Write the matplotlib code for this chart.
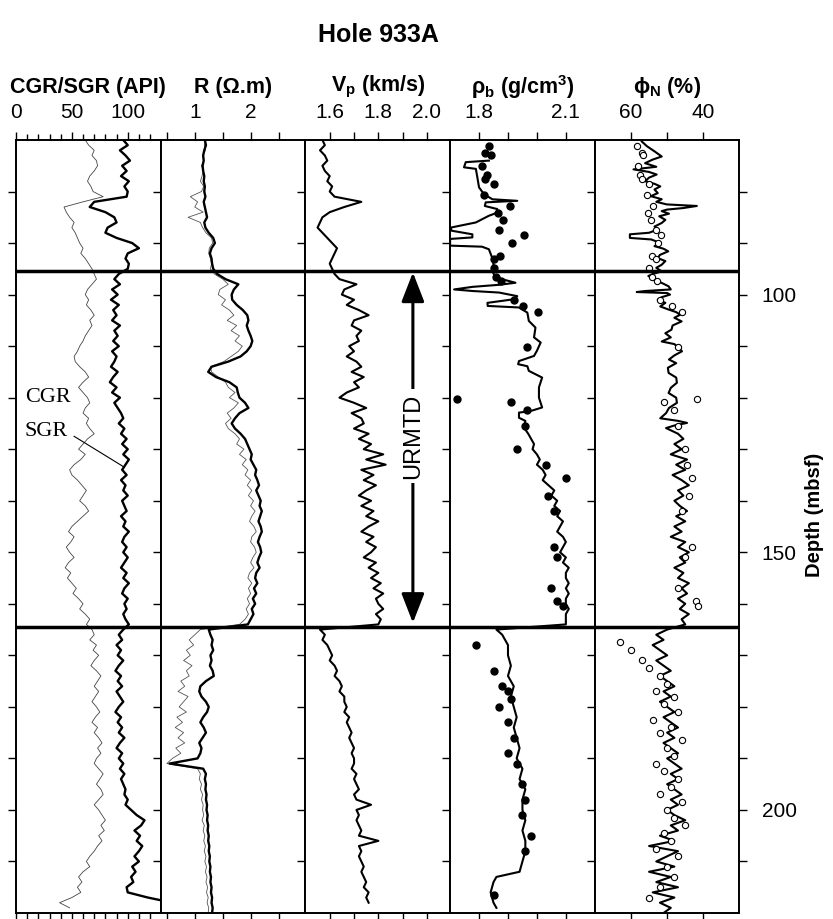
import numpy as np
import matplotlib.pyplot as plt
from matplotlib.ticker import FixedLocator

plt.rcParams['font.family'] = ['Liberation Sans', 'DejaVu Sans']
plt.rcParams['mathtext.fontset'] = 'custom'
plt.rcParams['mathtext.rm'] = 'Liberation Sans'
plt.rcParams['mathtext.bf'] = 'Liberation Sans:bold'
plt.rcParams['mathtext.it'] = 'Liberation Sans:italic'

# ---- gamma ray (API), 1 m steps from 70 m
sgr = [96, 100, 93, 98, 102, 95, 99, 94, 101, 97,
       100, 99, 70, 66, 80, 88, 90, 82, 80, 90,
       104, 110, 100, 98, 101, 100, 92, 88, 93, 86,
       91, 85, 92, 87, 90, 86, 93, 88, 91, 87,
       92, 86, 90, 88, 85, 91, 87, 84, 90, 86,
       93, 88, 91, 94, 96, 92, 97, 94, 99, 95,
       100, 96, 101, 98, 95, 99, 94, 98, 96, 100,
       95, 97, 99, 94, 98, 96, 101, 97, 95, 99,
       96, 100, 97, 94, 99, 96, 101, 97, 95, 100,
       97, 99, 96, 98, 101, 96, 92, 95, 90, 94,
       91, 96, 92, 89, 94, 91, 95, 90, 93, 96,
       92, 89, 94, 91, 95, 92, 97, 93, 90, 95,
       92, 96, 93, 97, 94, 96, 98, 97, 100, 98,
       103, 108, 115, 112, 106, 111, 108, 113, 110, 106,
       110, 104, 107, 103, 105, 99, 100, 118, 129]
sgr_depth = list(range(70, 218)) + [217.5]

cgr = [62, 65, 70, 68, 72, 73, 70, 66, 64, 67,
       69, 78, 60, 43, 45, 48, 52, 50, 53, 55,
       57, 60, 58, 62, 65, 68, 70, 72, 68, 64,
       62, 65, 63, 67, 70, 66, 68, 65, 62, 60,
       57, 55, 52, 53, 57, 62, 65, 60, 56, 60,
       64, 66, 62, 60, 65, 63, 66, 70, 64, 60,
       56, 62, 58, 52, 48, 50, 55, 59, 63, 60,
       57, 62, 65, 60, 55, 50, 47, 52, 49, 45,
       48, 52, 47, 44, 49, 46, 50, 54, 51, 56,
       60, 57, 62, 66, 63, 68, 70, 66, 72, 69,
       74, 70, 67, 72, 76, 73, 70, 74, 71, 68,
       72, 75, 71, 68, 73, 70, 74, 77, 73, 76,
       72, 70, 74, 78, 75, 72, 76, 78, 74, 70,
       74, 77, 80, 76, 79, 74, 77, 73, 70, 66,
       63, 66, 60, 56, 59, 55, 58, 50, 39, 48]
cgr_depth = list(range(70, 220))

# ---- resistivity (ohm.m), 1 m steps from 70 m
res_deep = [1.18, 1.2, 1.17, 1.15, 1.16, 1.14, 1.15, 1.17, 1.16, 1.18,
            1.17, 1.19, 1.16, 1.18, 1.2, 1.22, 1.17, 1.19, 1.25, 1.33,
            1.36, 1.3, 1.27, 1.3, 1.31, 1.33, 1.4, 1.55, 1.78, 1.7,
            1.66, 1.67, 1.75, 1.86, 1.94, 1.96, 1.93, 1.96, 2.0, 2.03,
            2.0, 1.93, 1.82, 1.6, 1.3, 1.24, 1.38, 1.62, 1.75, 1.77,
            1.8, 1.9, 1.96, 1.8, 1.72, 1.66, 1.72, 1.82, 1.9, 1.94,
            1.98, 2.02, 2.0, 2.05, 2.1, 2.08, 2.12, 2.15, 2.1, 2.14,
            2.18, 2.16, 2.2, 2.17, 2.14, 2.18, 2.2, 2.16, 2.13, 2.17,
            2.19, 2.15, 2.12, 2.16, 2.1, 2.08, 2.12, 2.06, 2.1, 2.04,
            2.08, 2.02, 2.05, 2.0, 1.95, 1.25, 1.28, 1.32, 1.3, 1.33,
            1.28, 1.3, 1.27, 1.32, 1.34, 1.2, 1.1, 1.08, 1.12, 1.2,
            1.25, 1.22, 1.15, 1.1, 1.16, 1.2, 1.14, 1.08, 1.12, 1.1,
            1.05, 0.55, 1.15, 1.2, 1.18, 1.2, 1.19, 1.21, 1.2, 1.22,
            1.21, 1.23, 1.22, 1.24, 1.23, 1.25, 1.24, 1.26, 1.25, 1.27,
            1.26, 1.28, 1.27, 1.29, 1.28, 1.3, 1.29, 1.31, 1.3, 1.32,
            1.31]
res_shallow = [1.2, 1.17, 1.19, 1.14, 1.16, 1.12, 1.15, 1.13, 1.1, 1.16,
               1.12, 0.92, 1.05, 1.0, 1.15, 0.88, 1.1, 1.14, 1.2, 1.3,
               1.32, 1.26, 1.25, 1.28, 1.3, 1.28, 1.35, 1.5, 1.6, 1.45,
               1.42, 1.55, 1.48, 1.62, 1.7, 1.58, 1.75, 1.65, 1.8, 1.72,
               1.85, 1.78, 1.65, 1.52, 1.28, 1.3, 1.42, 1.55, 1.6, 1.72,
               1.62, 1.78, 1.7, 1.58, 1.65, 1.55, 1.6, 1.72, 1.8, 1.75,
               1.88, 1.8, 1.92, 1.85, 1.95, 1.9, 2.0, 1.94, 2.02, 1.96,
               2.05, 2.0, 2.08, 2.02, 1.98, 2.06, 2.1, 2.02, 2.0, 2.07,
               2.1, 2.04, 2.0, 2.06, 1.98, 1.95, 2.02, 1.96, 2.0, 1.94,
               1.98, 1.92, 1.96, 1.9, 1.8, 1.1, 1.0, 0.9, 0.98, 0.85,
               0.92, 0.8, 0.95, 0.85, 0.9, 0.75, 0.82, 0.7, 0.88, 0.8,
               0.72, 0.85, 0.68, 0.78, 0.65, 0.8, 0.7, 0.82, 0.66, 0.75,
               0.6, 0.5, 1.05, 1.1, 1.08, 1.12, 1.1, 1.14, 1.12, 1.15,
               1.14, 1.16, 1.13, 1.17, 1.15, 1.18, 1.16, 1.19, 1.17, 1.2,
               1.18, 1.21, 1.19, 1.22, 1.2, 1.23, 1.21, 1.24, 1.22, 1.25,
               1.24]
res_depth = list(range(70, 221))

# ---- P-wave velocity (km/s), 1 m steps from 70 m
vp = [1.57, 1.58, 1.56, 1.58, 1.59, 1.57, 1.58, 1.6, 1.59, 1.61,
      1.6, 1.62, 1.73, 1.66, 1.6, 1.57, 1.56, 1.55, 1.57, 1.59,
      1.61, 1.63, 1.62, 1.61, 1.6, 1.61, 1.62, 1.64, 1.71, 1.66,
      1.65, 1.7, 1.67, 1.72, 1.76, 1.7, 1.69, 1.73, 1.71, 1.72,
      1.68, 1.7, 1.67, 1.71, 1.73, 1.69, 1.74, 1.7, 1.72, 1.67,
      1.64, 1.7, 1.75, 1.69, 1.73, 1.74, 1.7, 1.76, 1.72, 1.77,
      1.74, 1.82, 1.75, 1.83, 1.73, 1.78, 1.74, 1.79, 1.75, 1.72,
      1.77, 1.73, 1.78, 1.75, 1.8, 1.76, 1.73, 1.78, 1.75, 1.79,
      1.77, 1.74, 1.79, 1.76, 1.8, 1.77, 1.81, 1.78, 1.82, 1.79,
      1.8, 1.82, 1.79, 1.81, 1.8, 1.56, 1.58, 1.57, 1.59, 1.6,
      1.61, 1.6, 1.62, 1.63, 1.62, 1.64, 1.65, 1.64, 1.66, 1.66,
      1.67, 1.66, 1.68, 1.67, 1.68, 1.69, 1.68, 1.69, 1.7, 1.69,
      1.7, 1.7, 1.69, 1.71, 1.7, 1.71, 1.72, 1.7, 1.71, 1.77,
      1.71, 1.72, 1.71, 1.72, 1.73, 1.72, 1.8, 1.72, 1.73, 1.72,
      1.73, 1.74, 1.73, 1.74, 1.75, 1.74, 1.76, 1.75, 1.76]
vp_depth = list(range(70, 219))

# ---- bulk density log (g/cm3)
rho_depth = [74.0, 74.3, 75.3, 75.6, 77.2, 79.2, 80.5, 81.5, 81.8, 82.1,
             82.8, 83.4, 84.1, 84.7, 86.0, 87.0, 87.6, 88.3, 88.9, 89.2,
             90.5, 90.7, 91.2, 92.8, 94.1, 95.4, 96.7, 97.7, 98.1, 98.5,
             99.0, 99.3, 99.6, 100.3, 100.9, 101.6, 102.2, 102.5, 103.5, 105.1,
             106.4, 108.3, 109.3, 110.9, 111.9, 112.9, 113.5, 113.9, 114.8, 116.1,
             118.0, 120.0, 121.9, 122.6, 122.9, 123.9, 124.5, 125.8, 127, 128,
             129, 130, 131, 132, 133, 134, 135, 136, 137, 138,
             139, 140, 141, 142, 143, 144, 145, 146, 147, 148,
             149, 150, 151, 152, 153, 154, 155, 156, 157, 158,
             159, 160, 161, 162, 163, 164, 165, 166, 168, 170,
             172, 174, 176, 178, 180, 182, 184, 186, 188, 190,
             192, 194, 196, 198, 200, 202, 204, 206, 208, 210,
             212, 213, 214, 216, 218, 219]
rho = [1.834, 1.754, 1.748, 1.789, 1.794, 1.80, 1.817, 1.846, 1.932, 1.823,
       1.82, 1.863, 1.863, 1.834, 1.789, 1.702, 1.705, 1.777, 1.777, 1.70,
       1.70, 1.81, 1.834, 1.845, 1.85, 1.845, 1.858, 1.926, 1.869, 1.777,
       1.714, 1.777, 1.869, 1.932, 1.921, 1.829, 1.83, 1.938, 1.967, 1.972,
       1.995, 1.99, 2.013, 2.0, 1.99, 1.938, 1.935, 1.967, 1.972, 2.018,
       2.007, 2.007, 2.018, 1.978, 1.938, 1.938, 1.96, 1.955, 1.97, 1.98,
       1.99, 1.985, 2.0, 2.01, 2.0, 2.02, 2.03, 2.02, 2.04, 2.06,
       2.05, 2.07, 2.06, 2.08, 2.07, 2.09, 2.08, 2.07, 2.09, 2.1,
       2.09, 2.08, 2.1, 2.09, 2.11, 2.1, 2.1, 2.11, 2.1, 2.11,
       2.1, 2.1, 2.11, 2.1, 2.1, 2.1, 1.86, 1.88, 1.9, 1.9,
       1.91, 1.9, 1.92, 1.91, 1.92, 1.93, 1.92, 1.93, 1.94, 1.93,
       1.95, 1.94, 1.96, 1.95, 1.95, 1.96, 1.95, 1.96, 1.96, 1.95,
       1.94, 1.86, 1.85, 1.84, 1.85, 1.86]

# ---- neutron porosity log (%)
phi_depth = [70.3, 71.2, 72.2, 73.2, 73.8, 74.5, 75.2, 75.7, 76.2, 76.7,
             77.3, 78.0, 78.5, 79.0, 79.6, 80.3, 80.9, 81.5, 82.0, 82.5,
             82.8, 83.2, 83.5, 83.8, 84.3, 84.8, 85.5, 86.1, 86.8, 87.4,
             88.0, 88.3, 89.0, 89.3, 90.0, 90.6, 91.1, 91.6, 92.3, 92.9,
             93.5, 94.2, 94.8, 95.5, 96.0, 96.4, 96.9, 97.4, 97.9, 98.4,
             99.0, 99.3, 99.5, 99.7, 100.0, 100.5, 101.0, 101.6, 102.3, 102.9,
             103.4, 103.9, 104.5, 105.2, 106.0, 106.8, 107.5, 108.3, 109.1, 109.6,
             110.0, 110.5, 111.0, 111.8, 112.6, 113.3, 114.2, 115.2, 116.1, 117.1,
             118.1, 119.1, 120.0, 121.0, 122.0, 123.0, 124.0, 124.5, 124.9, 125.4,
             125.9] + list(range(127, 221))
phi = [57, 55.6, 53.5, 51.5, 54, 56.1, 53, 59.3, 55, 52.9,
       55, 56.1, 53.5, 51.9, 53.5, 52.6, 54.5, 51.5, 53, 50.1,
       41.8, 45.5, 50, 51.5, 49.5, 52.2, 50.5, 51.5, 53.5, 52.7,
       55, 60.3, 60.3, 54.4, 51.8, 53.5, 51, 49.7, 52, 52.6,
       50.5, 51.5, 53, 51.5, 54, 55.2, 53.5, 52.6, 51, 49.6,
       49, 56, 58.4, 50, 49.2, 51.5, 52.6, 50.5, 51.9, 49.6,
       47.5, 46.4, 48, 46, 48.5, 48.8, 50.5, 49, 51.5, 48,
       47.4, 46.5, 45.9, 48, 49.5, 47.5, 49.8, 49.6, 47.5, 47.3,
       49, 49.6, 47.5, 47.3, 49.5, 50.3, 51.9, 47, 44.5, 48,
       50.3,
       47, 45.5, 48, 46, 49, 44.5, 47.5, 45, 48.5, 46,
       44, 47, 45.5, 48, 46.5, 44.5, 47.5, 45, 48, 46,
       49, 45, 47, 44, 46.5, 45, 48, 45.5, 47, 44,
       46, 44.5, 47, 45, 46.5, 44, 46, 45, 50, 53,
       51, 54, 52, 50, 53, 51, 49, 52, 50, 48,
       51, 49, 52, 50, 48, 51, 49, 47, 50, 48,
       51, 49, 47, 50, 48, 46, 49, 47, 50, 48,
       46, 49, 47, 50, 48, 45, 49, 47, 52, 48,
       55, 47, 50, 53, 48, 55, 49, 53, 47, 54,
       48, 52, 49, 51]

# ---- core density samples
rho_core_depth = [71.1, 72.6, 72.9, 75.1, 76.7, 77.6, 78.5, 80.7, 82.9, 84.1,
                  85.6, 87.4, 88.5, 90.0, 92.6, 93.0, 94.9, 96.5, 97.4, 101.0,
                  102.3, 103.4, 110.1, 120.3, 120.8, 122.3, 125.5, 130, 133, 135.5,
                  139, 142, 149, 151, 157, 159.5, 160.5, 168, 173, 176,
                  177, 178.5, 180, 183, 186, 189, 191, 195, 198, 201,
                  205, 208, 216.5]
rho_core = [1.834, 1.820, 1.842, 1.809, 1.826, 1.821, 1.853, 1.816, 1.907, 1.867,
            1.882, 1.869, 1.955, 1.913, 1.871, 1.852, 1.853, 1.860, 1.875, 1.921,
            1.951, 2.005, 1.967, 1.725, 1.911, 1.967, 1.96, 1.93, 2.03, 2.1,
            2.04, 2.06, 2.06, 2.07, 2.05, 2.07, 2.09, 1.79, 1.85, 1.88,
            1.9, 1.91, 1.87, 1.9, 1.92, 1.9, 1.93, 1.95, 1.96, 1.95,
            1.98, 1.96, 1.85]

# ---- core porosity samples
phi_core_depth = [71.1, 72.6, 72.9, 75.1, 76.7, 77.6, 78.5, 80.7, 82.9, 84.1,
                  85.6, 87.4, 88.5, 90.0, 92.6, 93.0, 94.9, 96.5, 97.4, 101.0,
                  102.3, 103.4, 110.1, 120.3, 120.8, 122.3, 125.5, 130, 133, 135.5,
                  139, 142, 149, 151, 157, 159.5, 160.5,
                  167.5, 169, 171, 172.5, 174, 175.5, 177, 178, 179.5, 181,
                  182.5, 184, 185, 186.5, 188, 189.5, 191, 192.5, 194, 195.5,
                  197, 198.5, 200, 201.5, 203, 204.5, 206, 207.5, 209, 211,
                  213, 215, 217]
phi_core = [58.4, 57.0, 56.6, 58.0, 57.5, 57.0, 55.0, 55.6, 54.0, 55.2,
            54.6, 53.2, 51.8, 52.5, 54.3, 53.2, 54.9, 54.3, 52.9, 51.9,
            48.7, 45.9, 46.9, 41.7, 50.8, 48.2, 47, 45, 44.5, 43,
            44, 46, 43, 45, 47, 42, 41.5,
            63, 60, 57, 55, 52, 50, 53, 48, 51, 47,
            54, 49, 52, 46, 50, 48, 53, 51, 47, 49,
            52, 46, 50, 48, 45, 51, 49, 53, 47, 50,
            48, 52, 55]

top_urmtd = 95.5
base_urmtd = 164.5

W, H = 833, 919
fig = plt.figure(figsize=(W / 100, H / 100), dpi=100)
x0, pw, ytop, ybot = 16, 144.7, 140, 913

titles = ['CGR/SGR (API)', 'R (\u03a9.m)', 'V${}_\\mathbf{p}$ (km/s)',
          '\u03c1${}_\\mathbf{b}$ (g/cm${}^\\mathbf{3}$)', '\u03d5${}_\\mathbf{N}$ (%)']
xlims = [(0, 129.5), (0.39, 2.98), (1.5, 2.095), (1.7, 2.2), (70, 30)]
xticks = [[0, 50, 100], [0.5, 1, 1.5, 2, 2.5], [1.6, 1.7, 1.8, 1.9, 2.0],
          [1.8, 1.9, 2.0, 2.1], [60, 50, 40]]
xlabels = [['0', '50', '100'], ['', '1', '', '2', ''], ['1.6', '', '1.8', '', '2.0'],
           ['1.8', '', '', '2.1'], ['60', '', '40']]

axes = []
for i in range(5):
    ax = fig.add_axes([(x0 + i * pw) / W, 1 - ybot / H, pw / W, (ybot - ytop) / H])
    ax.set_ylim(220, 70)
    ax.set_xlim(*xlims[i])
    ax.set_xticks(xticks[i])
    ax.set_xticklabels(xlabels[i])
    ax.xaxis.set_ticks_position('both')
    ax.tick_params(axis='x', which='both', direction='out', top=True, bottom=True,
                   labeltop=True, labelbottom=False, labelsize=15, length=6,
                   width=1, pad=7)
    ax.tick_params(axis='x', which='minor', length=4)
    ax.set_yticks(range(80, 220, 10))
    ax.tick_params(axis='y', which='both', direction='out', left=True, right=False,
                   labelleft=False, length=6, width=1)
    for s in ax.spines.values():
        s.set_linewidth(1.4)
    ax.axhline(top_urmtd, color='k', lw=2.5, zorder=5)
    ax.axhline(base_urmtd, color='k', lw=2.5, zorder=5)
    ax.text(0.5, 1 + 53 / (ybot - ytop), titles[i], transform=ax.transAxes,
            ha='center', va='center', fontsize=15.5, fontweight='bold')
    axes.append(ax)

ax1, ax2, ax3, ax4, ax5 = axes

# gamma ray panel
ax1.xaxis.set_minor_locator(FixedLocator(range(10, 130, 10)))
ax1.plot(cgr, cgr_depth, color='#444444', lw=0.6)
ax1.plot(sgr, sgr_depth, color='k', lw=1.7)
ax1.text(8, 120, 'CGR', family='Liberation Serif', fontsize=16, va='center')
ax1.text(8, 126.5, 'SGR', family='Liberation Serif', fontsize=16, va='center')
ax1.plot([52, 97], [127.5, 133.5], color='k', lw=0.8)

# resistivity panel
ax2.plot(res_shallow, res_depth, color='#555555', lw=0.6)
ax2.plot(res_deep, res_depth, color='k', lw=1.7)

# velocity panel
ax3.plot(vp, vp_depth, color='k', lw=1.5)
ax3.annotate('', xy=(1.942, top_urmtd + 0.2), xytext=(1.942, base_urmtd - 0.8),
             arrowprops=dict(arrowstyle='<|-|>,head_length=0.9,head_width=0.35',
                             lw=2.2, color='k', mutation_scale=20,
                             shrinkA=0, shrinkB=0))
ax3.text(1.942, 127.5, 'URMTD', rotation=90, ha='center', va='center',
         fontsize=17, bbox=dict(facecolor='white', edgecolor='none', pad=3))

# density panel
ax4.plot(rho, rho_depth, color='k', lw=1.5)
ax4.plot(rho_core, rho_core_depth, 'o', color='k', ms=5, zorder=4)

# porosity panel
ax5.plot(phi, phi_depth, color='k', lw=1.5)
ax5.plot(phi_core, phi_core_depth, 'o', mfc='white', mec='k', ms=4.5, mew=0.8,
         zorder=4)
ax5.set_yticks([100, 150, 200])
ax5.set_yticks(range(80, 220, 10), minor=True)
ax5.tick_params(axis='y', which='both', left=True, right=True, labelright=True,
                direction='out', length=6, width=1, labelsize=15, pad=10)

fig.text(378 / W, 1 - 35 / H, 'Hole 933A', ha='center', va='center',
         fontsize=18, fontweight='bold')
fig.text(815 / W, 1 - 515 / H, 'Depth (mbsf)', rotation=90, ha='center',
         va='center', fontsize=14.5, fontweight='bold')

fig.savefig('out.png', dpi=100)
